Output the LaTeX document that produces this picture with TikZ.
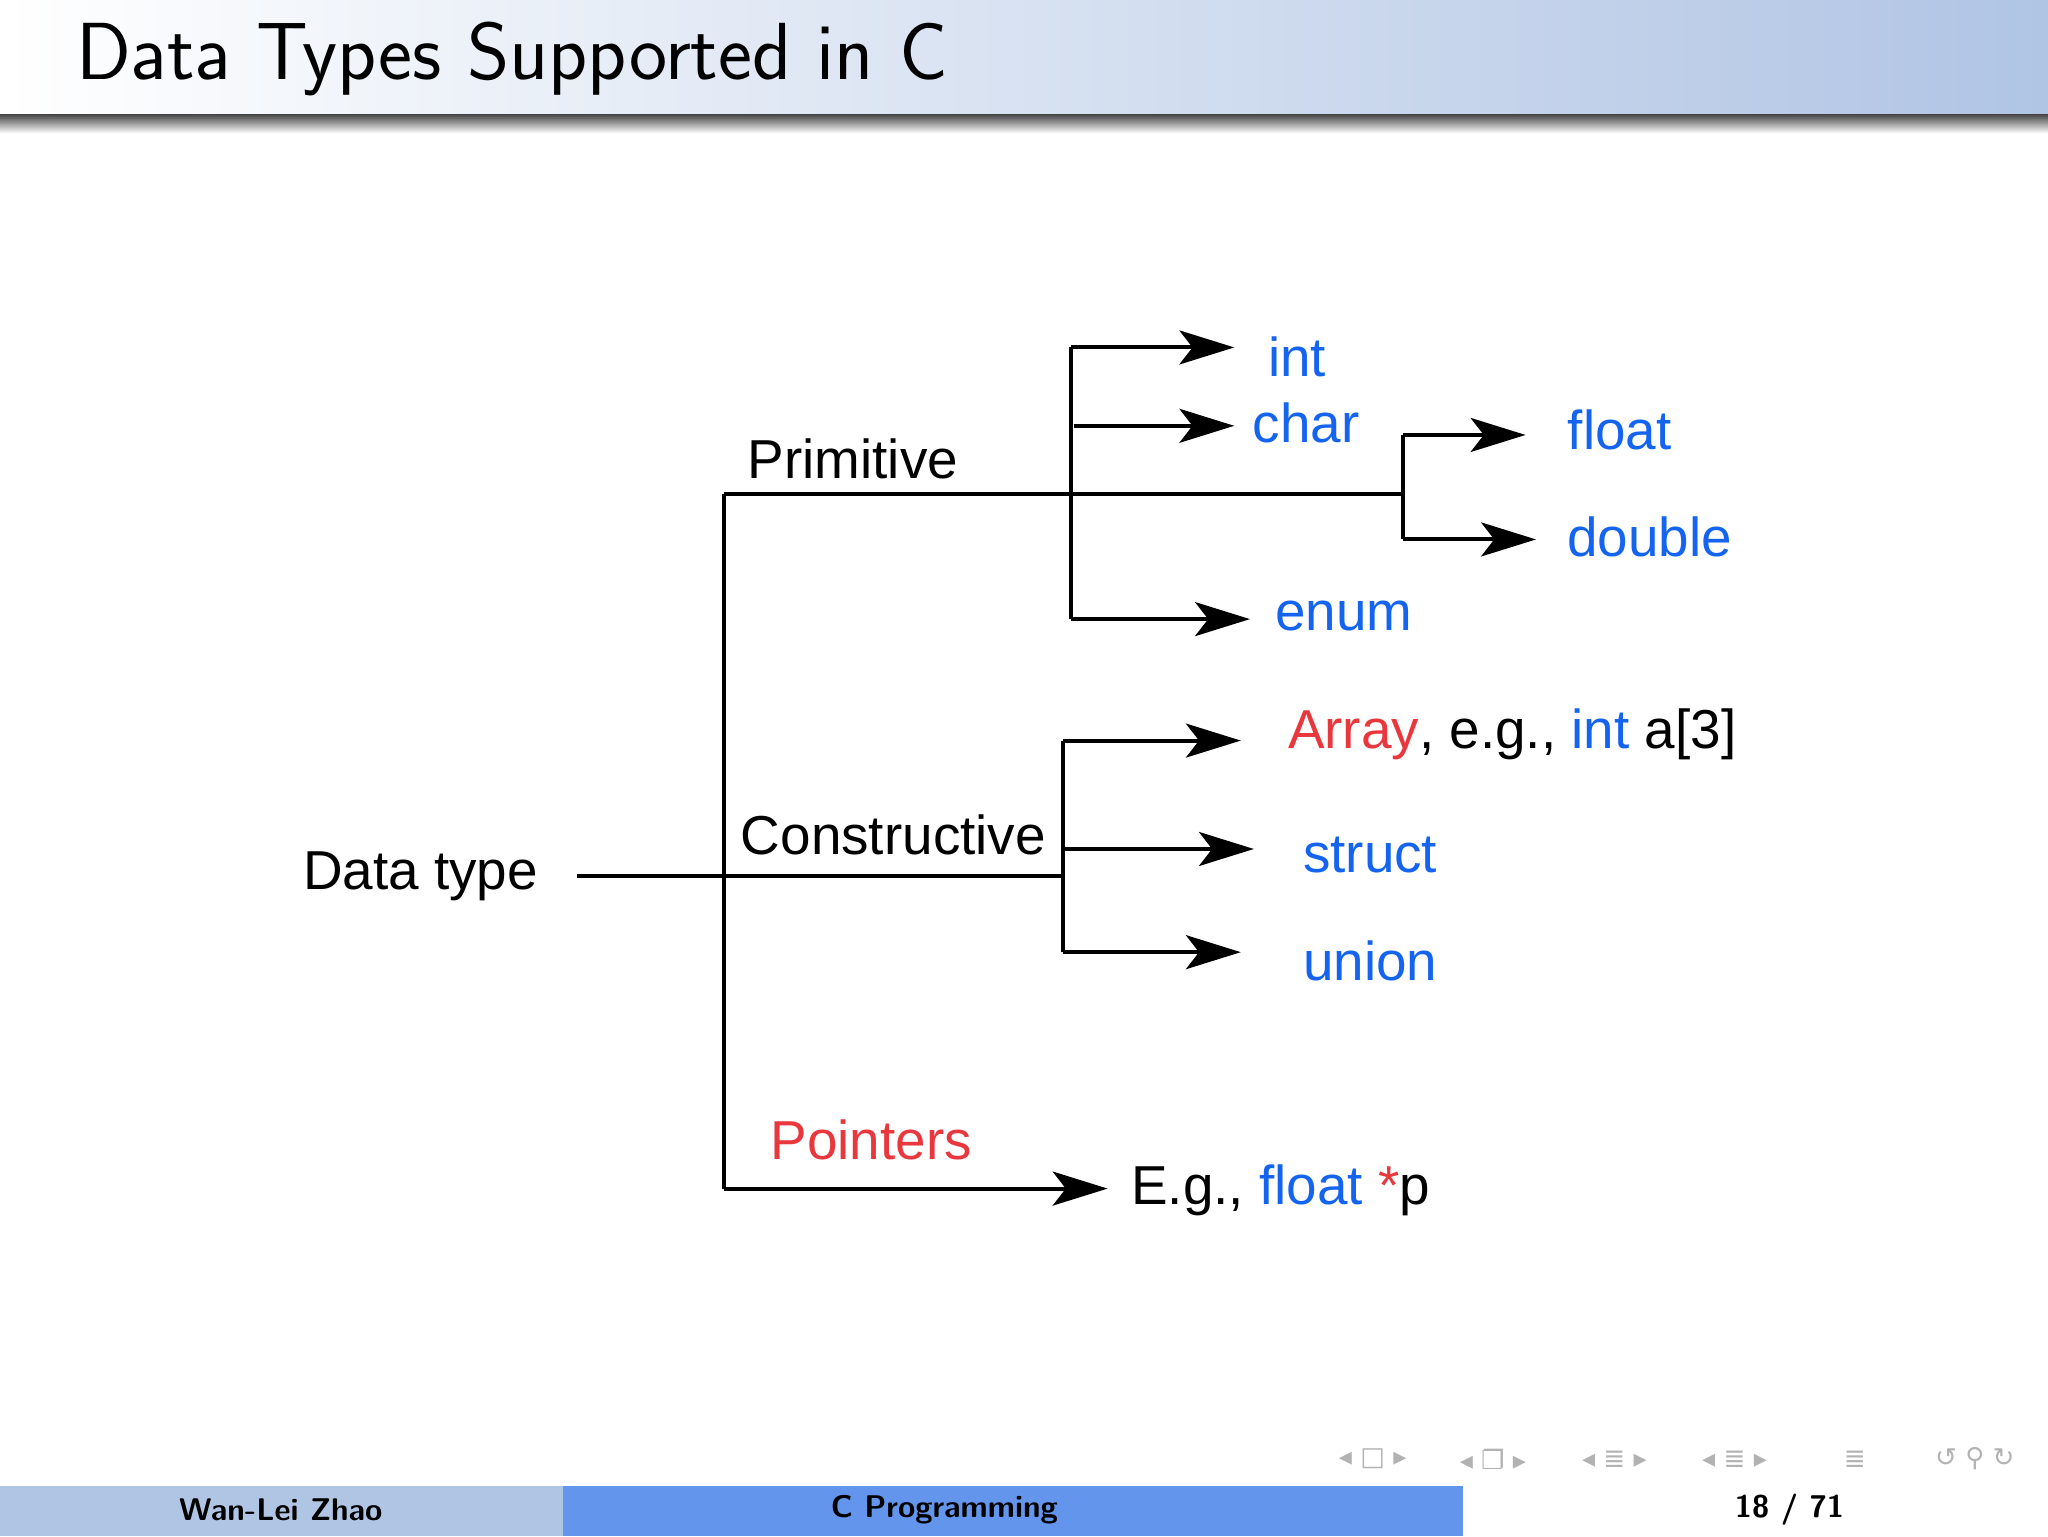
\documentclass[tikz,border=0pt]{standalone}
\usepackage{fontspec}
\setmainfont{Liberation Sans}
\newfontfamily\titlefont{Latin Modern Sans}
\usetikzlibrary{arrows.meta}
\definecolor{cblue}{RGB}{20,100,240}
\definecolor{cred}{RGB}{232,56,61}
\definecolor{barblue}{RGB}{176,196,228}
\definecolor{footl}{RGB}{176,196,228}
\definecolor{footm}{RGB}{100,149,237}
\begin{document}
\begin{tikzpicture}[x=1pt,y=-1pt,
  ln/.style={line width=3pt},
  arr/.style={line width=3pt,-{Stealth[length=42pt,width=26pt,inset=10pt]}},
  lbl/.style={font=\fontsize{42}{46}\selectfont,inner sep=0pt},
  bl/.style={lbl,text=cblue},
  rd/.style={lbl,text=cred},
  ft/.style={font=\titlefont\bfseries\fontsize{24}{26}\selectfont},
  nv/.style={text=black!30,font=\fontspec{DejaVu Sans}\fontsize{20}{22}\selectfont,inner sep=0pt}]
\useasboundingbox (0,0) rectangle (1568,1176);
% title bar
\shade[left color=white,right color=barblue] (0,0) rectangle (1568,88);
\shade[top color=black!70,bottom color=white] (0,88) rectangle (1568,102);
\node[anchor=west,inner sep=0pt,font=\titlefont\fontsize{62}{66}\selectfont] (title) at (58,45) {Data Types Supported in C};
% footer
\fill[footl] (0,1138) rectangle (431,1176);
\fill[footm] (431,1138) rectangle (1120,1176);
\node[ft] (fa) at (215,1156) {Wan-Lei Zhao};
\node[ft] (fb) at (723,1156) {C Programming};
\node[ft] (fc) at (1370,1156) {18 / 71};
\node[nv] (n1) at (1051,1117) {◂ □ ▸};
\node[nv] (n2) at (1143,1117) {◂ ❐ ▸};
\node[nv] (n3) at (1236,1117) {◂ ≣ ▸};
\node[nv] (n4) at (1328,1117) {◂ ≣ ▸};
\node[nv] (n5) at (1420,1117) {≣};
\node[nv] (n6) at (1512,1117) {↺ ⚲ ↻};
% diagram nodes
\node[lbl] (dt) at (322,671) {Data type};
\node[lbl] (prim) at (653,351) {Primitive};
\node[lbl] (cons) at (684,639) {Constructive};
\node[rd] (ptr) at (667,873) {Pointers};
\node[bl] (int) at (993,273) {int};
\node[bl] (char) at (1000,324) {char};
\node[bl] (enum) at (1029,472) {enum};
\node[bl] (float) at (1240,329) {float};
\node[bl] (double) at (1263,411) {double};
\node[lbl,anchor=west] (array) at (986,562) {\textcolor{cred}{Array}, e.g., \textcolor{cblue}{int} a[3]};
\node[bl] (struct) at (1049,655) {struct};
\node[bl] (union) at (1049,736) {union};
\node[lbl,anchor=west] (eg) at (866,911) {E.g., \textcolor{cblue}{float} \textcolor{cred}{*}p};
\coordinate (root) at (442,671);
\coordinate (v1) at (554,378);
\coordinate (v2) at (554,910);
\coordinate (fj) at (1074,378);
\coordinate (cj) at (814,671);
% connectors
\draw[ln] (root) -- (cj);
\draw[ln] (v1) -- (v2);
\draw[ln] (v1) -- (fj);
\draw[ln] (820,266) -- (820,474);
\draw[arr] (820,266) -- (945,266);
\draw[arr] (822,326) -- (945,326);
\draw[arr] (820,474) -- (957,474);
\draw[ln] (1074,333) -- (1074,413);
\draw[arr] (1074,333) -- (1168,333);
\draw[arr] (1074,413) -- (1176,413);
\draw[ln] (814,567) -- (814,729);
\draw[arr] (814,567) -- (950,567);
\draw[arr] (814,650) -- (960,650);
\draw[arr] (814,729) -- (950,729);
\draw[arr] (v2) -- (848,910);
\end{tikzpicture}
\end{document}
